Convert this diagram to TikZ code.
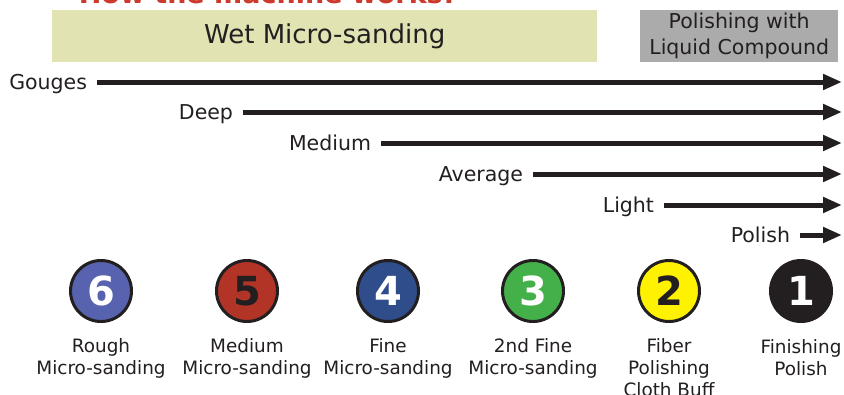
\documentclass[tikz,border=0pt]{standalone}
\usepackage{fontspec}
\setmainfont{DejaVu Sans}
\usetikzlibrary{arrows.meta}
\usetikzlibrary{positioning}

\definecolor{ink}{HTML}{231F20}
\definecolor{wetbox}{HTML}{E1E3B3}
\definecolor{polbox}{HTML}{ABABAB}
\definecolor{titlered}{HTML}{CB3A2C}
\definecolor{disc6}{HTML}{5763AE}
\definecolor{disc5}{HTML}{B23427}
\definecolor{disc4}{HTML}{2F4D8B}
\definecolor{disc3}{HTML}{44B04A}
\definecolor{disc2}{HTML}{FFF200}
\definecolor{disc1}{HTML}{231F20}

\begin{document}
\begin{tikzpicture}[x=1pt,y=-1pt,
  grade/.style={font=\fontsize{20.5}{24}\selectfont, text=ink, text height=15pt, text depth=0pt,
    inner xsep=5pt, inner ysep=0pt, outer xsep=5pt, anchor=east},
  flow/.style={line width=5pt, draw=ink, -{Triangle[length=19pt,width=15pt]}},
  disc/.style={circle, draw=ink, line width=3pt, minimum size=61pt, inner sep=0pt,
    font=\fontsize{40}{40}\selectfont\bfseries},
  stagecap/.style={align=center, anchor=base, text=ink, font=\fontsize{18.4}{22}\selectfont}]

 \useasboundingbox[fill=white] (0,0) rectangle (844,394);

 %title, cut by the page
 \node[anchor=base, text=titlered, font=\fontsize{27}{27}\selectfont\bfseries] (title) at (267,3) {How the machine works!};

 %headers
 \node[fill=wetbox, anchor=north west, minimum width=545pt, minimum height=52.5pt, inner sep=0pt,
   text=ink, font=\fontsize{26}{30}\selectfont] (wet) at (52,9.5) {Wet Micro-sanding};
 \node[fill=polbox, anchor=north west, minimum width=198pt, minimum height=52.5pt, inner sep=0pt,
   align=center, text=ink, font=\fontsize{20.5}{26}\selectfont] (pol) at (640,9.5) {Polishing with\\Liquid Compound};

 %scratch depth
 \def\xend{842}
 \foreach \i/\name/\y/\x in {1/Gouges/82/97, 2/Deep/112/243, 3/Medium/143/381,
                              4/Average/174/533, 5/Light/205/664, 6/Polish/235/800} {
         \node[grade] (lab\i) at (\x,\y) {\name};
         \coordinate (tip\i) at (\xend,\y);
         \draw[flow] (lab\i.east) -- (tip\i);
 }

 %stages (caption y = baseline of its last line)
 \def\dy{291}
 \foreach \i/\x/\numc/\cy/\capt in {6/101/white/374/{Rough\\Micro-sanding}, 5/247/ink/374/{Medium\\Micro-sanding},
                                 4/388/white/374/{Fine\\Micro-sanding}, 3/533/white/374/{2nd Fine\\Micro-sanding},
                                 2/669/ink/396/{Fiber\\Polishing\\Cloth Buff}, 1/801/white/375/{Finishing\\Polish}} {
         \node[disc, fill=disc\i, text=\numc] (st\i) at (\x,\dy) {\i};
         \node[stagecap] (cap\i) at (\x,\cy) {\capt};
 }

\end{tikzpicture}
\end{document}
